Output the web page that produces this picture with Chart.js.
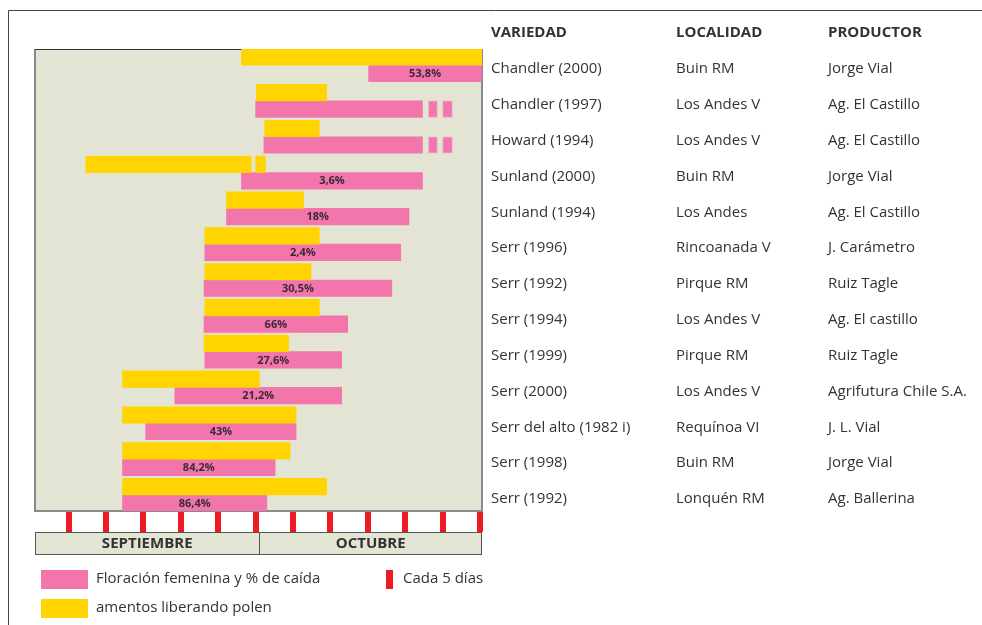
<!DOCTYPE html>
<html>
<head>
<meta charset="utf-8">
<script src="https://cdn.jsdelivr.net/npm/chart.js@4/dist/chart.umd.min.js"></script>
<style>
	html, body { margin: 0; padding: 0; background: #fff; }
	#main { display: block; }
</style>
</head>
<body>
<canvas id="main" width="982" height="625"></canvas>
<script>
// rows, top to bottom
var varieties = ['Chandler (2000)', 'Chandler (1997)', 'Howard (1994)', 'Sunland (2000)', 'Sunland (1994)', 'Serr (1996)', 'Serr (1992)', 'Serr (1994)', 'Serr (1999)', 'Serr (2000)', 'Serr del alto (1982 i)', 'Serr (1998)', 'Serr (1992)'];
var localities = ['Buin RM', 'Los Andes V', 'Los Andes V', 'Buin RM', 'Los Andes', 'Rincoanada V', 'Pirque RM', 'Los Andes V', 'Pirque RM', 'Los Andes V', 'Requínoa VI', 'Buin RM', 'Lonquén RM'];
var producers = ['Jorge Vial', 'Ag. El Castillo', 'Ag. El Castillo', 'Jorge Vial', 'Ag. El Castillo', 'J. Carámetro', 'Ruiz Tagle', 'Ag. El castillo', 'Ruiz Tagle', 'Agrifutura Chile S.A.', 'J. L. Vial', 'Jorge Vial', 'Ag. Ballerina'];

// days counted from 1 september (0) ; 30 = 1 octubre
var polenStart = [27.6, 29.6, 30.7, 6.8, 25.6, 22.7, 22.7, 22.7, 22.6, 11.7, 11.7, 11.7, 11.7];
var polenEnd = [60, 39.0, 38.0, 28.9, 35.9, 38.0, 36.9, 38.0, 33.9, 30.0, 34.9, 34.1, 39.0];
var polenExtra = [[3, 29.5, 30.8]]; // row, start, end
var flowerStart = [44.6, 29.5, 30.6, 27.6, 25.6, 22.7, 22.6, 22.6, 22.7, 18.7, 14.8, 11.7, 11.7];
var flowerEnd = [59.7, 51.8, 51.8, 51.8, 50.0, 48.9, 47.7, 41.8, 41.0, 41.0, 34.9, 32.1, 31.0];
var flowerDashes = [[1, 52.6, 53.8], [1, 54.5, 55.8], [2, 52.6, 53.8], [2, 54.5, 55.8]];
var dropPct = ['53,8%', '', '', '3,6%', '18%', '2,4%', '30,5%', '66%', '27,6%', '21,2%', '43%', '84,2%', '86,4%'];

var months = ['SEPTIEMBRE', 'OCTUBRE'];
var monthDays = [30, 30];
var tickDays = [5, 10, 15, 20, 25, 30, 35, 40, 45, 50, 55, 60];

var YELLOW = 'rgb(255,212,0)';
var PINK = 'rgb(242,117,172)';
var BEIGE = 'rgb(228,228,212)';
var RED = 'rgb(237,28,36)';
var TEXT = '#333333';
var FONT = '"Open Sans", "Noto Sans", sans-serif';

var polenData = [], flowerData = [];
for (var i = 0; i < varieties.length; i++){
	polenData.push({y: i, x: [polenStart[i], polenEnd[i]]});
	flowerData.push({y: i, x: [flowerStart[i], flowerEnd[i]], label: dropPct[i]});
}
for (var i = 0; i < polenExtra.length; i++){
	polenData.push({y: polenExtra[i][0], x: [polenExtra[i][1], polenExtra[i][2]]});
}
for (var i = 0; i < flowerDashes.length; i++){
	flowerData.push({y: flowerDashes[i][0], x: [flowerDashes[i][1], flowerDashes[i][2]], dash: true});
}

var decor = {
	id: 'decor',
	beforeDatasetsDraw: function(chart){
		var ctx = chart.ctx, a = chart.chartArea;
		ctx.save();
		// outer frame
		ctx.strokeStyle = '#444';
		ctx.lineWidth = 1;
		ctx.beginPath();
		ctx.moveTo(8.5, 625);
		ctx.lineTo(8.5, 10.5);
		ctx.lineTo(982, 10.5);
		ctx.stroke();
		// plot background and border
		ctx.fillStyle = BEIGE;
		ctx.fillRect(a.left, a.top, a.right - a.left, a.bottom - a.top);
		ctx.strokeStyle = '#8a8a8a';
		ctx.lineWidth = 2;
		ctx.beginPath();
		ctx.moveTo(a.left, a.top);
		ctx.lineTo(a.left, a.bottom);
		ctx.lineTo(a.right, a.bottom);
		ctx.lineTo(a.right, a.top);
		ctx.stroke();
		ctx.strokeStyle = '#333';
		ctx.lineWidth = 1;
		ctx.beginPath();
		ctx.moveTo(a.left, a.top + 0.5);
		ctx.lineTo(a.right, a.top + 0.5);
		ctx.stroke();
		ctx.restore();
	},
	afterDatasetsDraw: function(chart){
		var ctx = chart.ctx, a = chart.chartArea;
		var xs = chart.scales.x, ys = chart.scales.y;
		ctx.save();
		// percent labels inside the pink bars
		var meta = chart.getDatasetMeta(1);
		ctx.font = 'bold 11px ' + FONT;
		ctx.fillStyle = '#3a2a38';
		ctx.textAlign = 'center';
		ctx.textBaseline = 'middle';
		for (var i = 0; i < meta.data.length; i++){
			var raw = chart.data.datasets[1].data[i];
			if (!raw.label) continue;
			var bar = meta.data[i];
			ctx.fillText(raw.label, (bar.x + bar.base) / 2, bar.y + 0.5);
		}

		// table on the right
		var cols = [491, 676, 828];
		ctx.textAlign = 'left';
		ctx.fillStyle = TEXT;
		ctx.font = 'bold 15px ' + FONT;
		ctx.fillText('VARIEDAD', cols[0], 33);
		ctx.fillText('LOCALIDAD', cols[1], 33);
		ctx.fillText('PRODUCTOR', cols[2], 33);
		ctx.font = '15px ' + FONT;
		for (var i = 0; i < varieties.length; i++){
			var y = ys.getPixelForValue(i) + 4;
			ctx.fillText(varieties[i], cols[0], y);
			ctx.fillText(localities[i], cols[1], y);
			ctx.fillText(producers[i], cols[2], y);
		}

		// red ticks every 5 days
		ctx.fillStyle = RED;
		for (var i = 0; i < tickDays.length; i++){
			var tx = xs.getPixelForValue(tickDays[i] - 0.5);
			ctx.fillRect(Math.round(tx) - 3, a.bottom + 1, 6, 20);
		}

		// month band
		var bandTop = a.bottom + 21, bandH = 22;
		ctx.fillStyle = BEIGE;
		ctx.fillRect(a.left, bandTop, a.right - a.left, bandH);
		ctx.strokeStyle = '#555';
		ctx.lineWidth = 1;
		ctx.strokeRect(a.left + 0.5, bandTop + 0.5, a.right - a.left - 1, bandH);
		ctx.font = 'bold 15px ' + FONT;
		ctx.fillStyle = TEXT;
		ctx.textAlign = 'center';
		var d0 = 0;
		for (var i = 0; i < months.length; i++){
			var mx0 = xs.getPixelForValue(d0);
			var mx1 = Math.min(xs.getPixelForValue(d0 + monthDays[i]), a.right);
			if (i > 0){
				ctx.beginPath();
				ctx.moveTo(Math.round(mx0) + 0.5, bandTop);
				ctx.lineTo(Math.round(mx0) + 0.5, bandTop + bandH);
				ctx.stroke();
			}
			ctx.fillText(months[i], (mx0 + mx1) / 2, bandTop + bandH / 2 + 1);
			d0 += monthDays[i];
		}

		// legend
		ctx.textAlign = 'left';
		ctx.font = '15px ' + FONT;
		ctx.fillStyle = PINK;
		ctx.fillRect(41, 570, 47, 19);
		ctx.fillStyle = YELLOW;
		ctx.fillRect(41, 599, 47, 19);
		ctx.fillStyle = RED;
		ctx.fillRect(386, 570, 7, 19);
		ctx.fillStyle = TEXT;
		ctx.fillText('Floración femenina y % de caída', 96, 579);
		ctx.fillText('amentos liberando polen', 96, 608);
		ctx.fillText('Cada 5 días', 403, 579);
		ctx.restore();
	}
};

var ctx = document.getElementById('main').getContext('2d');
var chart = new Chart(ctx, {
	type: 'bar',
	data: {
		datasets: [
			{label: 'amentos liberando polen', data: polenData, backgroundColor: YELLOW, borderWidth: 0, barThickness: 16.5},
			{
				label: 'Floración femenina y % de caída',
				data: flowerData,
				backgroundColor: PINK,
				borderColor: 'rgb(246,170,200)',
				borderWidth: function(c){ return c.raw && c.raw.dash ? 1 : 0; },
				borderSkipped: false,
				barThickness: 16.5
			}
		]
	},
	options: {
		responsive: false,
		animation: false,
		indexAxis: 'y',
		layout: {padding: {left: 35, top: 49, right: 500, bottom: 114}},
		plugins: {legend: {display: false}, tooltip: {enabled: false}},
		scales: {
			x: {type: 'linear', min: 0, max: 59.76, display: false},
			y: {type: 'linear', min: -0.45, max: 12.45, reverse: true, offset: false, display: false}
		}
	},
	plugins: [decor]
});
</script>
</body>
</html>
